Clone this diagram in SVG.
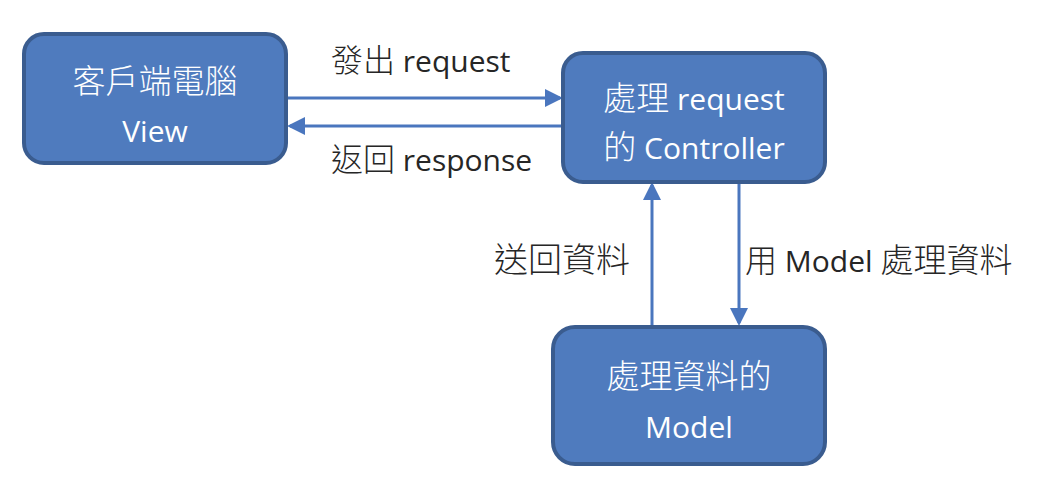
<svg xmlns="http://www.w3.org/2000/svg" width="1053" height="479" viewBox="0 0 1053 479">
<style>
.box{fill:#4F7BBE;stroke:#3A5C8F;stroke-width:4}
.bt{font-family:"Open Sans","Noto Sans CJK TC",sans-serif;font-size:30px;fill:#FFFFFF;text-anchor:middle}
.lt{font-family:"Open Sans","Noto Sans CJK TC",sans-serif;font-size:30px;fill:#262626}
.cj{font-family:"Noto Sans CJK TC",sans-serif;font-weight:300;font-size:33px}
.cl{font-family:"Noto Sans CJK TC",sans-serif;font-weight:300;font-size:32px}
.c{stroke:#4A76BE;stroke-width:3;fill:none}
</style>
<defs>
<marker id="ah" markerWidth="6" markerHeight="6" refX="5" refY="3" orient="auto" markerUnits="strokeWidth">
<path d="M0,0 L6,3 L0,6 z" fill="#4A76BE"/>
</marker>
</defs>
<rect width="1053" height="479" fill="#FFFFFF"/>
<g id="connectors">
<line class="c" x1="288" y1="98" x2="560" y2="98" marker-end="url(#ah)"/>
<line class="c" x1="562" y1="126" x2="290" y2="126" marker-end="url(#ah)"/>
<line class="c" x1="652" y1="325" x2="652" y2="185" marker-end="url(#ah)"/>
<line class="c" x1="739" y1="184" x2="739" y2="323" marker-end="url(#ah)"/>
<text class="lt" x="331" y="72"><tspan class="cl">發出</tspan> request</text>
<text class="lt" x="331" y="171"><tspan class="cl">返回</tspan> response</text>
<text class="lt" x="494" y="272"><tspan class="cl" style="font-size:34px">送回資料</tspan></text>
<text class="lt" x="745" y="272"><tspan class="cl">用</tspan> Model <tspan class="cl" style="font-size:33px">處理資料</tspan></text>
</g>
<g id="view">
<rect class="box" x="24" y="34" width="262" height="129" rx="20"/>
<text class="bt" x="155" y="93"><tspan class="cj">客戶端電腦</tspan></text>
<text class="bt" x="155" y="142">View</text>
</g>
<g id="controller">
<rect class="box" x="563" y="53" width="262" height="129" rx="20"/>
<text class="bt" x="694" y="110"><tspan class="cj">處理</tspan> request</text>
<text class="bt" x="694" y="159"><tspan class="cj">的</tspan> Controller</text>
</g>
<g id="model">
<rect class="box" x="553" y="327" width="272" height="137" rx="22"/>
<text class="bt" x="689" y="388"><tspan class="cj">處理資料的</tspan></text>
<text class="bt" x="689" y="438">Model</text>
</g>
</svg>
